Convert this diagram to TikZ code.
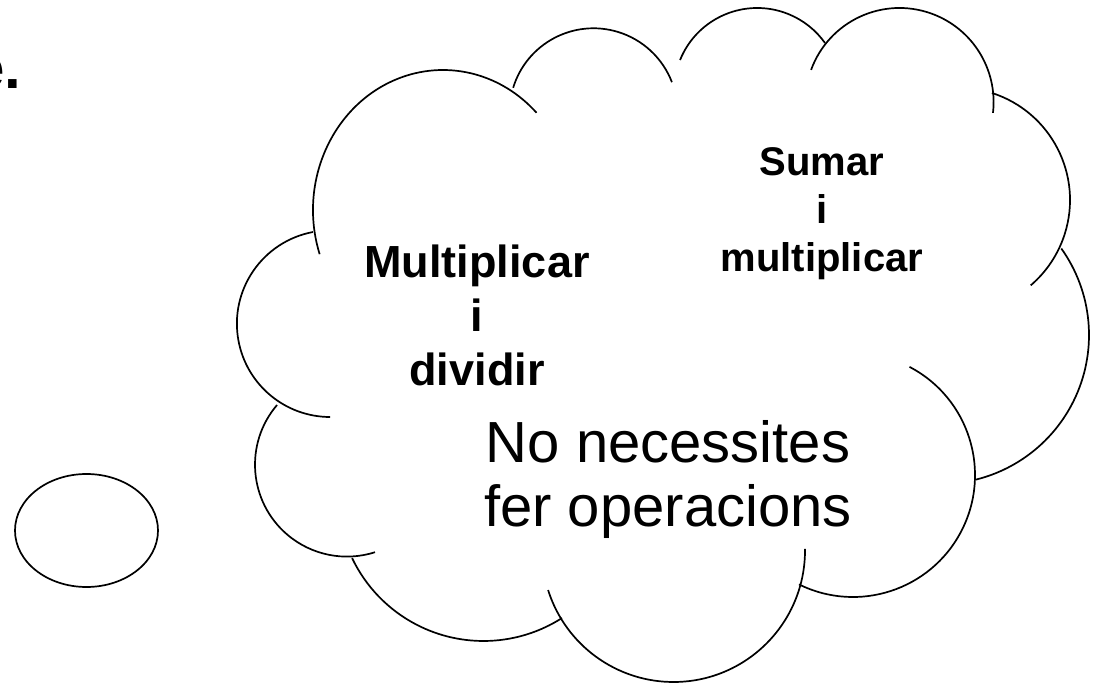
\documentclass[tikz,border=0pt]{standalone}
\usepackage{fontspec}
\setmainfont{Liberation Sans}
\usetikzlibrary{shapes.geometric}
\begin{document}
\begin{tikzpicture}[x=1pt,y=-1pt,line width=1.7pt,
    small text/.style={inner sep=0pt,align=center,font=\bfseries\fontsize{40}{48}\selectfont},
    big text/.style={inner sep=0pt,align=center,font=\bfseries\fontsize{45}{54}\selectfont},
    plain text/.style={inner sep=0pt,align=center,font=\fontsize{58}{64}\selectfont}]
            \useasboundingbox (0,0) rectangle (1095,684);

            \node[inner sep=0pt,anchor=base east,font=\bfseries\fontsize{60}{72}\selectfont] (title) at (22,89) {e.};

            \foreach \cx/\cy/\rx/\ry/\sa/\ea in {
                443/210/130/140/161.6/316,
                593.5/112.3/84/84/197/339,
                757.2/91.2/83.2/83.2/202/324.6,
                899.5/102.1/94.1/94.1/200/366.6,
                957.6/200/112.4/112.4/287.8/409.4,
                940/335/149/149/-35.5/76,
                853/475/122/122/-62.4/116.3,
                673.5/550.5/131.5/131.5/-0.7/162.5,
                483.5/495.4/145.6/145.6/57.4/154.5,
                346.9/464.7/91.9/91.9/220.5/72.2,
                330.2/323.7/93.3/93.3/259.4/90.1}
                \draw (\cx,\cy) ++({\rx*cos(\sa)},{\ry*sin(\sa)}) arc[start angle=\sa,end angle=\ea,x radius=\rx,y radius=\ry];

            \node[ellipse,draw,minimum width=143pt,minimum height=113pt] (puff) at (86.5,530.5) {};

            \node[small text] (sumar) at (822,214) {Sumar\\i\\multiplicar};
            \node[big text] (multi) at (477,315) {Multiplicar\\i\\dividir};
            \node[plain text] (noop) at (668,480) {No necessites\\fer operacions};
        \end{tikzpicture}
\end{document}
